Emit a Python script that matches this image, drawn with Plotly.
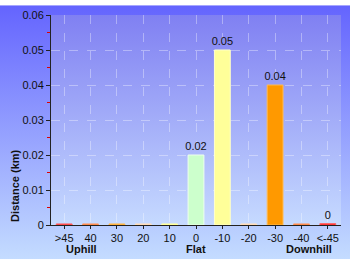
import base64
import plotly.graph_objects as go

categories = [">45", "40", "30", "20", "10", "0", "-10", "-20", "-30", "-40", "<-45"]
distance_km = [0.0003, 0.0003, 0.0003, 0.0003, 0.0003, 0.02, 0.05, 0.0003, 0.04, 0.0003, 0.0004]
bar_labels = ["", "", "", "", "", "0.02", "0.05", "", "0.04", "", "0"]
bar_colors = ["#ff0000", "#ff6600", "#ff9900", "#ffcc99", "#ffff66", "#ccffcc",
              "#ffff99", "#ffcc99", "#ff9900", "#ff6600", "#ff0000"]
edge_colors = ["#ff6666", "#ff9966", "#ffbb55", "#ffe0c0", "#ffffaa", "#eeffee",
               "#ffffcc", "#ffe0c0", "#ffbb55", "#ff9966", "#ff6666"]
y_ticks = [0, 0.01, 0.02, 0.03, 0.04, 0.05, 0.06]
y_tick_text = ["0", "0.01", "0.02", "0.03", "0.04", "0.05", "0.06"]

W, H = 350, 260
L, R, T, B = 51, 9, 10, 35
PW, PH = W - L - R, H - T - B

svg = f'''<svg xmlns="http://www.w3.org/2000/svg" width="{W}" height="{H}" viewBox="0 0 {W} {H}" preserveAspectRatio="none">
<defs>
<linearGradient id="g1" x1="0" y1="0" x2="0" y2="1">
<stop offset="0" stop-color="#6464fe"/><stop offset="1" stop-color="#c4dcff"/></linearGradient>
<linearGradient id="g2" x1="0" y1="0" x2="0" y2="1">
<stop offset="0" stop-color="#8080f2"/><stop offset="1" stop-color="#c6daff"/></linearGradient>
</defs>
<rect x="0" y="0" width="{W}" height="{H}" fill="url(#g1)"/>
<rect x="{L}" y="{T}" width="{PW}" height="{PH}" fill="url(#g2)"/>
</svg>'''
src = "data:image/svg+xml;base64," + base64.b64encode(svg.encode()).decode()

fig = go.Figure(go.Bar(
    x=categories, y=distance_km, width=0.6,
    marker=dict(color=bar_colors, line=dict(color=edge_colors, width=1)),
    text=bar_labels, textposition="outside", cliponaxis=False, constraintext="none",
    textfont=dict(family="Liberation Sans, Arial", size=11, color="#111111"),
))


def px_to_paper_x(px):
    return (px - L) / PW


def px_to_paper_y(py):
    return (PH + T - py) / PH


fig.update_layout(
    width=W, height=H,
    margin=dict(l=L, r=R, t=T, b=B),
    paper_bgcolor="rgba(0,0,0,0)", plot_bgcolor="rgba(0,0,0,0)",
    showlegend=False,
    font=dict(family="Liberation Sans, Arial", size=11, color="#111111"),
    images=[dict(source=src, xref="paper", yref="paper",
                 x=-L / PW, y=1 + T / PH, sizex=W / PW, sizey=H / PH,
                 xanchor="left", yanchor="top", sizing="stretch", layer="below")],
    xaxis=dict(showline=True, linecolor="#222222", linewidth=1,
               ticks="outside", ticklen=3, tickcolor="#222222",
               showgrid=True, gridcolor="rgba(255,255,255,0.35)", griddash="dash",
               tickfont=dict(size=11), fixedrange=True),
    yaxis=dict(range=[0, 0.06], tickvals=y_ticks, ticktext=y_tick_text,
               showline=True, linecolor="#222222", linewidth=1,
               ticks="outside", ticklen=4, tickcolor="#222222",
               minor=dict(dtick=0.005, ticks="outside", ticklen=3, tickcolor="#dd0000", showgrid=False),
               showgrid=True, gridcolor="rgba(255,255,255,0.35)", griddash="dash",
               zeroline=False, tickfont=dict(size=11), fixedrange=True),
    annotations=[
        dict(text="<b>Distance (km)</b>", xref="paper", yref="paper", x=px_to_paper_x(15),
             y=px_to_paper_y(185), xanchor="center", yanchor="middle",
             textangle=-90, showarrow=False, font=dict(size=11)),
        dict(text="<b>Uphill</b>", xref="paper", yref="paper", x=px_to_paper_x(81),
             y=px_to_paper_y(250), xanchor="center", yanchor="middle", showarrow=False, font=dict(size=11)),
        dict(text="<b>Flat</b>", xref="paper", yref="paper", x=px_to_paper_x(196),
             y=px_to_paper_y(250), xanchor="center", yanchor="middle", showarrow=False, font=dict(size=11)),
        dict(text="<b>Downhill</b>", xref="paper", yref="paper", x=px_to_paper_x(309),
             y=px_to_paper_y(250), xanchor="center", yanchor="middle", showarrow=False, font=dict(size=11)),
    ],
)

fig.write_html("out.html")
